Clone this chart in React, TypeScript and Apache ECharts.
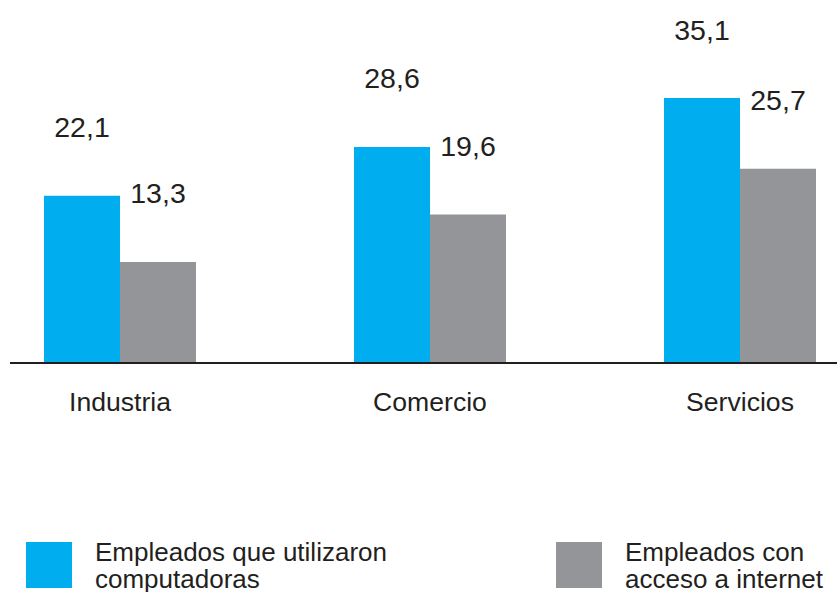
import React, { useEffect, useRef } from "react";
import * as echarts from "echarts";

const categories = ["Industria", "Comercio", "Servicios"];
const computadoras = [22.1, 28.6, 35.1];
const internet = [13.3, 19.6, 25.7];
const seriesNames = ["Empleados que utilizaron\ncomputadoras", "Empleados con\nacceso a internet"];

const BLUE = "#00AEEF";
const GRAY = "#939598";
const TEXT = "#231F20";
const FONT = "'Liberation Sans', Arial, Helvetica, sans-serif";

// chart canvas is shifted left by OFF px inside a clipped 837x592 frame
const OFF = 35;

export default function App() {
  const ref = useRef<HTMLDivElement>(null);
  useEffect(() => {
    if (!ref.current) return;
    const chart = echarts.init(ref.current, undefined, { renderer: "svg" });
    const fmt = (p: any) => String(p.value).replace(".", ",");
    const legendBase = {
      itemWidth: 46,
      itemHeight: 46,
      icon: "rect",
      padding: 0,
      selectedMode: false,
      textStyle: { color: TEXT, fontSize: 26, fontFamily: FONT, lineHeight: 27, padding: [0, 0, 0, 18] },
    };
    chart.setOption({
      animation: false,
      backgroundColor: "#ffffff",
      textStyle: { fontFamily: FONT },
      grid: { left: 0, right: 0, top: 362 - 47 * 7.52, bottom: 592 - 362, containLabel: false },
      xAxis: {
        type: "category",
        data: categories,
        axisLine: { show: false },
        axisTick: { show: false },
        axisLabel: { color: TEXT, fontSize: 26.6, fontFamily: FONT, margin: 26 },
      },
      yAxis: {
        type: "value",
        min: 0,
        max: 47,
        show: false,
        splitLine: { show: false },
      },
      legend: [
        { ...legendBase, data: [seriesNames[0]], left: 26 + OFF, top: 538 },
        { ...legendBase, data: [seriesNames[1]], left: 556 + OFF, top: 538 },
      ],
      series: [
        {
          name: seriesNames[0],
          type: "bar",
          data: computadoras,
          barWidth: 76,
          barGap: "0%",
          itemStyle: { color: BLUE },
          label: {
            show: true,
            position: "top",
            distance: 54,
            formatter: fmt,
            color: TEXT,
            fontSize: 28.5,
            fontFamily: FONT,
          },
        },
        {
          name: seriesNames[1],
          type: "bar",
          data: internet,
          barWidth: 76,
          barGap: "0%",
          itemStyle: { color: GRAY },
          label: {
            show: true,
            position: "top",
            distance: 54,
            formatter: fmt,
            color: TEXT,
            fontSize: 28.5,
            fontFamily: FONT,
          },
        },
      ],
      graphic: [
        {
          type: "line",
          shape: { x1: 10 + OFF, y1: 363, x2: 837 + OFF, y2: 363 },
          style: { stroke: TEXT, lineWidth: 2 },
          z: 10,
        },
      ],
    });
    return () => chart.dispose();
  }, []);
  return (
    <div
      style={{
        position: "absolute",
        left: 0,
        top: 0,
        width: 837,
        height: 592,
        overflow: "hidden",
        background: "#ffffff",
      }}
    >
      <div
        ref={ref}
        style={{ position: "absolute", left: -OFF, top: 0, width: 930, height: 592 }}
      />
    </div>
  );
}
